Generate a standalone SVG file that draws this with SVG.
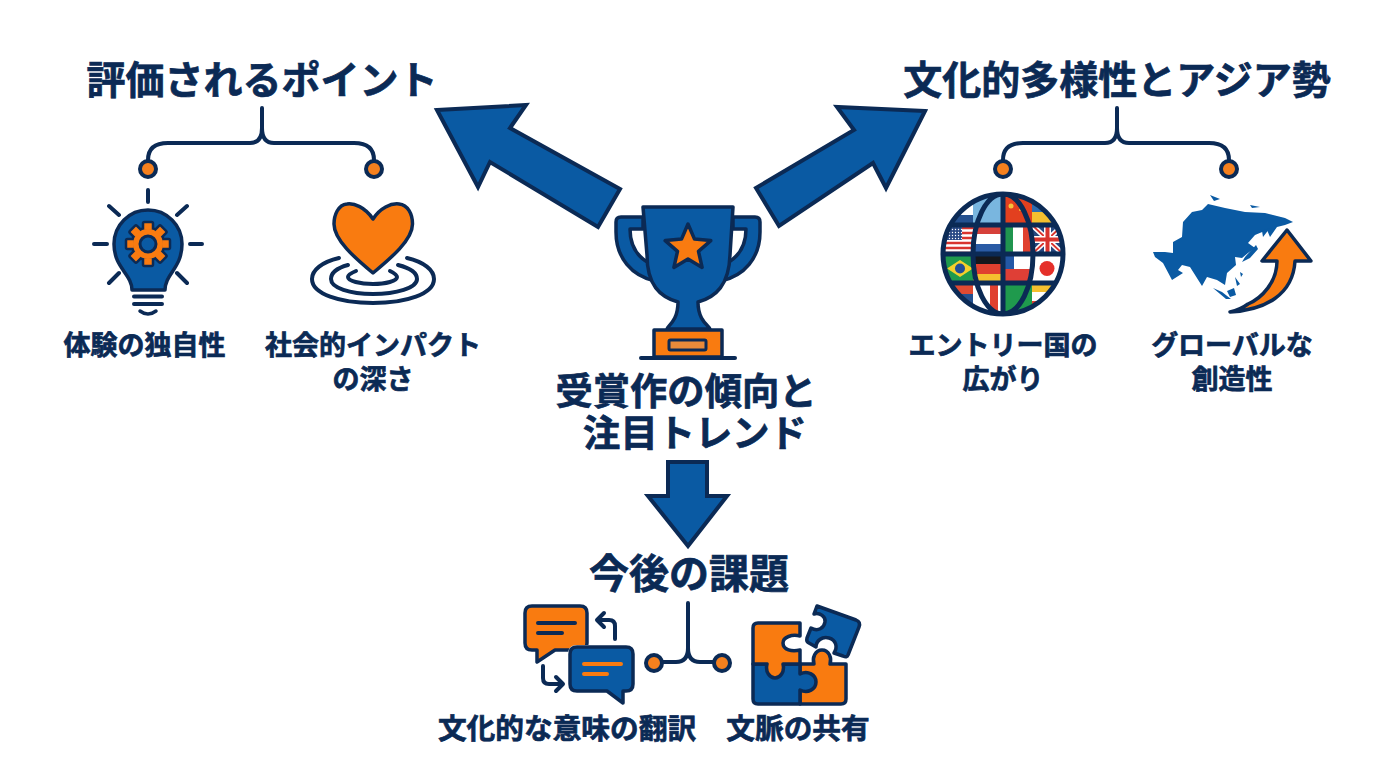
<svg xmlns="http://www.w3.org/2000/svg" width="1376" height="768" viewBox="0 0 1376 768">
<style>
text{font-family:"Noto Sans CJK JP","Noto Sans",sans-serif;font-weight:700;fill:#0b2a55;stroke:#0b2a55;stroke-width:.7;text-anchor:middle}
.t{font-size:39px}.c{font-size:37.300px}.s{font-size:27px}.b{font-size:28.700px}.h{font-size:40px}
.ln{fill:none;stroke:#0b2a55;stroke-width:4;stroke-linecap:round;stroke-linejoin:round}
.bf{fill:#0a5aa3;stroke:#0b2a55;stroke-width:3.500;stroke-linejoin:round}
.of{fill:#f97b10;stroke:#0b2a55;stroke-width:3.500;stroke-linejoin:round}
.dot{fill:#f5801e;stroke:#0b2a55;stroke-width:4}
.arrow{fill:#0a5aa3;stroke:#0b2a55;stroke-width:4;stroke-linejoin:miter}
.gl{fill:none;stroke:#0b2a55;stroke-width:5}
.isl{fill:#0a5aa3}
</style>
<defs>
<clipPath id="globeClip"><circle cx="1003" cy="254" r="60"/></clipPath>
<clipPath id="ukClip"><rect x="1032" y="225" width="31" height="29"/></clipPath>
<pattern id="stars" width="3" height="3" patternUnits="userSpaceOnUse"><rect width="3" height="3" fill="#2b4a86"/><circle cx="1.500" cy="1.500" r=".7" fill="#fff"/></pattern>
<rect id="tooth" x="-5" y="-22" width="10" height="9" rx="1.500" fill="#f97b10" stroke="#0b2a55" stroke-width="2.500"/>
</defs>
<rect width="1376" height="768" fill="#fff"/>

<g id="connectors">
<path class="arrow" d="M437 110L526 105L510 128L620 189L598 227L490 162L478 187Z"/>
<path class="arrow" d="M925 111L837 107L854 130L756 188L779 226L873 163L886 188Z"/>
<path class="arrow" d="M668 462H707V496H727L688 546L648 496H668Z"/>
<path class="ln" d="M262 108V128Q262 143 250 143H168Q148 143 148 160M262 128Q262 143 274 143H354Q374 143 374 160"/>
<path class="ln" d="M1117 108V128Q1117 143 1105 143H1023Q1003 143 1003 160M1117 128Q1117 143 1129 143H1209Q1229 143 1229 160"/>
<path class="ln" d="M688 603V648Q688 662 676 662H663M688 648Q688 662 700 662H713"/>
<circle class="dot" cx="148" cy="169" r="8"/><circle class="dot" cx="374" cy="169" r="8"/>
<circle class="dot" cx="1003" cy="169" r="8"/><circle class="dot" cx="1229" cy="169" r="8"/>
<circle class="dot" cx="654" cy="663" r="8"/><circle class="dot" cx="722" cy="663" r="8"/>
</g>

<g id="node-center">
<path class="bf" d="M643 217H621Q616 217 616 222V232C616 258 632 276 655 281L649 263C636 256 630 245 630 229H643Z"/>
<path class="bf" d="M733 217H755Q760 217 760 222V232C760 258 744 276 721 281L727 263C740 256 746 245 746 229H733Z"/>
<path class="bf" d="M667 329C667 326 678 322 678 302C660 297 647 285 647 255L643 207H733L730 255C729 285 716 297 698 302C698 322 710 326 710 329Z"/>
<path class="of" d="M688 224L694.500 239.100L710.800 240.600L698.500 251.400L702.100 267.400L688 259L673.900 267.400L677.500 251.400L665.200 240.600L681.500 239.100Z"/>
<rect class="of" x="654" y="330" width="68" height="27"/>
<rect x="669" y="340" width="37" height="10" rx="1.500" fill="#e88a3a" stroke="#0b2a55" stroke-width="3"/>
<path class="ln" d="M641 358H735"/>
<text class="c" x="686" y="405">受賞作の傾向と</text>
<text class="c" x="695" y="447">注目トレンド</text>
</g>

<g id="node-points"><text class="t" x="262" y="94">評価されるポイント</text></g>

<g id="node-uniqueness">
<path class="ln" d="M148 190V202M109 206L119 215M187 206L177 215M94 244H107M190 244H202M119 273L109 283M177 273L187 283"/>
<path class="bf" d="M132 290C132 274 114 268 114 244A34 34 0 1 1 182 244C182 268 165 274 165 290Z"/>
<circle cx="148" cy="244" r="16" fill="#f97b10" stroke="#0b2a55" stroke-width="3"/>
<g transform="translate(148 244)">
<use href="#tooth"/><use href="#tooth" transform="rotate(45)"/><use href="#tooth" transform="rotate(90)"/><use href="#tooth" transform="rotate(135)"/><use href="#tooth" transform="rotate(180)"/><use href="#tooth" transform="rotate(225)"/><use href="#tooth" transform="rotate(270)"/><use href="#tooth" transform="rotate(315)"/>
<circle r="15" fill="#f97b10"/>
<circle r="8" fill="#0a5aa3" stroke="#0b2a55" stroke-width="3"/>
</g>
<path class="ln" d="M134 296.500H162M134 304H162"/>
<path class="ln" style="stroke-width:3.500" d="M140 311Q148 317 156 311"/>
<text class="s" x="144.500" y="355">体験の独自性</text>
</g>

<g id="node-impact">
<path class="ln" d="M339 258C322 262 312 270 312 279C312 294 340 303 373 303C406 303 434 294 434 279C434 270 424 262 407 258"/>
<path class="ln" d="M348 265C337 268 331 273 331 279C331 288 350 294 373 294C396 294 417 288 417 279C417 273 410 268 398 265"/>
<path class="ln" d="M356 271C351 273 348 275 348 277C348 281 360 284 373 284C386 284 397 281 397 277C397 275 394 273 390 271"/>
<path class="of" d="M373 219C365 207 354 203 347 204C338 205 334 215 334 224C334 240 355 258 373 273C391 258 412.500 240 412.500 224C412.500 214 408 205 399 204C391 203 380 208 373 219Z"/>
<text class="s" x="373" y="355">社会的インパクト</text>
<text class="s" x="373" y="389">の深さ</text>
</g>

<g id="node-diversity"><text class="t" x="1117" y="94">文化的多様性とアジア勢</text></g>

<g id="node-entries">
<circle cx="1003" cy="254" r="60" fill="#fff"/>
<g clip-path="url(#globeClip)">
<rect x="943" y="194" width="30" height="10" fill="#e04a32"/><rect x="943" y="204" width="30" height="11" fill="#fff"/><rect x="943" y="215" width="30" height="10" fill="#24508f"/>
<rect x="973" y="194" width="30" height="31" fill="#79b6df"/>
<rect x="1003" y="194" width="29" height="31" fill="#e2401f"/>
<circle cx="1011" cy="206" r="2.500" fill="#f6c23a"/><circle cx="1018" cy="204" r="1" fill="#f6c23a"/><circle cx="1020" cy="210" r="1" fill="#f6c23a"/>
<rect x="1032" y="194" width="31" height="18" fill="#2d6cb0"/><rect x="1032" y="212" width="31" height="13" fill="#f5c02f"/>

<rect x="945" y="225" width="28" height="29" fill="#fff"/>
<path d="M945 228H973M945 233H973M945 238H973M945 243H973M945 248H973M945 253H973" stroke="#d9352e" stroke-width="2.400"/>
<rect x="945" y="225" width="17" height="15" fill="url(#stars)"/>
<rect x="973" y="225" width="30" height="9" fill="#d6413a"/><rect x="973" y="234" width="30" height="10" fill="#fff"/><rect x="973" y="244" width="30" height="10" fill="#2a5ba5"/>
<rect x="1003" y="225" width="10" height="29" fill="#20954f"/><rect x="1013" y="225" width="10" height="29" fill="#fff"/><rect x="1023" y="225" width="9" height="29" fill="#e0402f"/>
<g clip-path="url(#ukClip)">
<rect x="1032" y="225" width="31" height="29" fill="#27487f"/>
<path d="M1032 225L1063 254M1063 225L1032 254" stroke="#fff" stroke-width="5"/>
<path d="M1032 225L1063 254M1063 225L1032 254" stroke="#d9352e" stroke-width="2"/>
<path d="M1047.500 225V254M1032 239.500H1063" stroke="#fff" stroke-width="7"/>
<path d="M1047.500 225V254M1032 239.500H1063" stroke="#d9352e" stroke-width="4"/>
</g>

<rect x="943" y="254" width="30" height="29" fill="#1f9a4d"/>
<path d="M947 268.500L960 260L973 268.500L960 277Z" fill="#f6cf2b"/><circle cx="960" cy="268.500" r="5" fill="#234e96"/>
<rect x="973" y="254" width="30" height="10" fill="#15171c"/><rect x="973" y="264" width="30" height="10" fill="#e0402f"/><rect x="973" y="274" width="30" height="9" fill="#f5c02f"/>
<rect x="1003" y="254" width="29" height="15" fill="#fff"/><rect x="1003" y="254" width="11" height="15" fill="#2458a6"/><rect x="1003" y="269" width="29" height="14" fill="#df3f36"/>
<rect x="1032" y="254" width="31" height="29" fill="#fff"/><circle cx="1047" cy="268.500" r="7.500" fill="#e5302a"/>

<rect x="943" y="283" width="30" height="11" fill="#e04a32"/><rect x="943" y="294" width="30" height="22" fill="#24508f"/>
<rect x="973" y="283" width="30" height="33" fill="#fff"/><rect x="990" y="283" width="8" height="33" fill="#e0402f"/>
<rect x="1003" y="283" width="29" height="33" fill="#1f9a4d"/>
<rect x="1032" y="283" width="31" height="9" fill="#f5c02f"/><rect x="1032" y="292" width="31" height="9" fill="#fff"/><rect x="1032" y="301" width="31" height="15" fill="#e0402f"/>
<path class="gl" d="M943 225H1063M943 254H1063M943 283H1063M1003 194V314"/>
<ellipse class="gl" cx="1003" cy="254" rx="30" ry="60"/>
</g>
<circle cx="1003" cy="254" r="60" fill="none" stroke="#0b2a55" stroke-width="5"/>
<text class="s" x="1003" y="355">エントリー国の</text>
<text class="s" x="1003" y="389">広がり</text>
</g>

<g id="node-creativity">
<path fill="#0a5aa3" d="M1153 252L1165 252L1173 253L1173 242L1182 237L1183 222L1192 212L1202 210L1208 204L1225 208L1245 212L1265 213L1285 218L1293 222L1285 225L1277 227L1270 237L1267 230L1255 235L1248 243L1255 248L1248 253L1242 258L1235 257L1236 265L1227 273L1225 285L1217 280L1207 277L1202 286L1190 267L1182 265L1178 270L1183 273L1172 280L1163 263L1155 257Z"/>
<path class="isl" d="M1210 195L1220 199L1214 201ZM1250 205L1260 207L1252 208ZM1213 288L1222 292L1231 299L1226 299ZM1227 291L1234 288L1236 295L1230 297ZM1235 277L1240 284L1237 286ZM1240 272L1243 274L1241 277ZM1262 231L1270 228L1263 237ZM1256 245L1258 249L1250 258L1242 262L1245 257Z"/>
<path class="of" d="M1230 312C1265 310 1293 295 1295 261H1311L1287 230L1262 261H1277C1277 282 1262 298 1248 304Q1240 310 1230 312Z"/>
<text class="s" x="1232" y="355">グローバルな</text>
<text class="s" x="1232" y="389">創造性</text>
</g>

<g id="node-issues"><text class="h" x="689" y="588">今後の課題</text></g>

<g id="node-translation">
<path class="of" d="M532 606H580Q587 606 587 613V643Q587 650 580 650H555L537 662V650H532Q525 650 525 643V613Q525 606 532 606Z"/>
<path class="ln" d="M538 623H575M538 633H562"/>
<path d="M577 645H626Q635 645 635 654V684Q635 693 626 693H625V705L607 693H577Q568 693 568 684V654Q568 645 577 645Z" fill="#fff"/>
<path class="bf" d="M577 647H626Q633 647 633 654V684Q633 691 626 691H623V703L607 691H577Q570 691 570 684V654Q570 647 577 647Z"/>
<path d="M584 664H621M584 674H607" fill="none" stroke="#f97b10" stroke-width="4" stroke-linecap="round"/>
<path class="ln" d="M615 639V626Q615 620 609 620H598M604 613L597 620L604 627"/>
<path class="ln" d="M543 666V678Q543 684 549 684H562M556 677L563 684L556 691"/>
<text class="b" x="567" y="739">文化的な意味の翻訳</text>
</g>

<g id="node-context">
<path class="of" d="M800 664H814C812 658 815 650 822 650C829 650 832 658 830 664H846V699Q846 704 841 704H800Z"/>
<path class="bf" d="M753 664H800V674C808 670 816 675 816 682C816 689 808 694 800 690V704H758Q753 704 753 699Z"/>
<path class="of" d="M758 623H800V636C792 634 783 637 783 643C783 650 792 652 800 650V664H783C785 672 780 678 775 678C770 678 765 672 767 664H753V628Q753 623 758 623Z"/>
<path class="bf" d="M817 606L856 620Q861 622 859 627L848 655Q847 658 843 656L834 653C838 647 836 640 829 638C822 636 816 641 816 647L809 643Q806 642 807 638L811 628C818 632 824 628 825 622C826 617 820 612 814 614Z"/>
<text class="b" x="798" y="739">文脈の共有</text>
</g>
</svg>
